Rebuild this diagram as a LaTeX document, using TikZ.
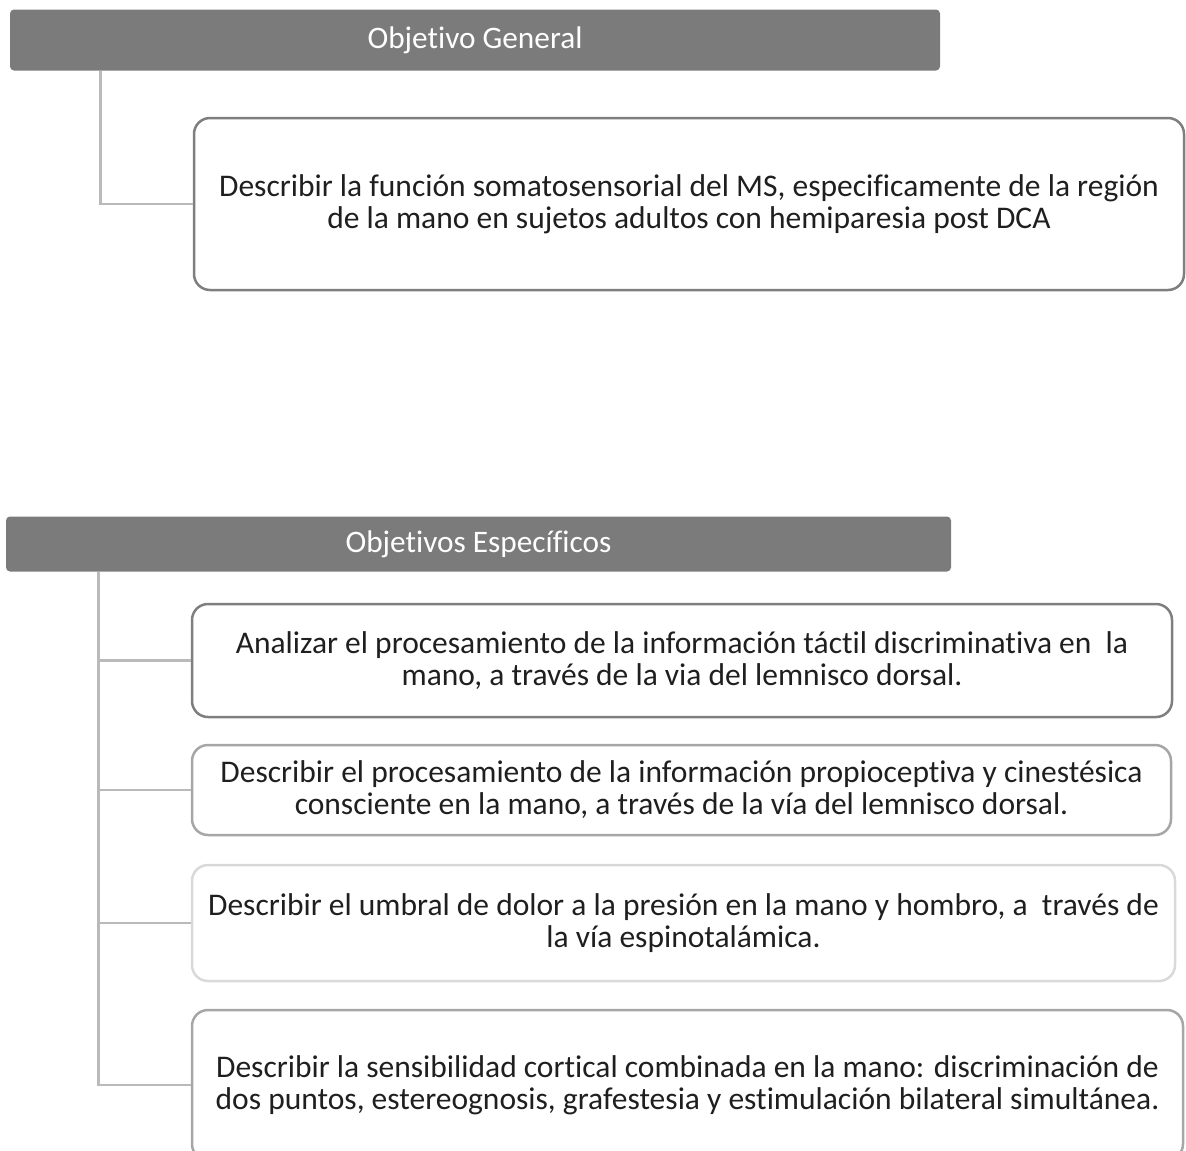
\documentclass[tikz,border=0pt]{standalone}
\usepackage{fontspec}
\setmainfont{Carlito}[Ligatures={NoCommon}]
\usepackage{tikz}
\usetikzlibrary{positioning, calc}
\usepackage{xcolor}
\definecolor{hdrgray}{HTML}{7B7B7B}
\definecolor{linkgray}{HTML}{BABABA}
\definecolor{darkedge}{HTML}{7F7F7F}
\definecolor{midedge}{HTML}{A6A6A6}
\definecolor{lightedge}{HTML}{D9D9D9}

\begin{document}
\begin{tikzpicture}[x=1pt, y=-1pt,
  header/.style={fill=hdrgray, draw=none, rounded corners=4pt,
    minimum width=#1, inner sep=0pt, text=white,
    font=\fontsize{31.3}{32}\selectfont},
  goal/.style={draw=#1, line width=2.5pt, rounded corners=16pt, fill=white,
    inner sep=0pt, align=center, text=black!88,
    font=\fontsize{31.5}{32}\selectfont},
  link/.style={draw=linkgray, line width=2.8pt}
]
  \useasboundingbox (0,0) rectangle (1186,1151);

  % General
  \node[header=930pt, minimum height=61pt] (hg) at (475, 40) {Objetivo General};
  \node[goal=darkedge, minimum width=990pt, minimum height=172pt] (g1) at (689, 204)
    {Describir la función somatosensorial del MS, especificamente de la región\\
     de la mano en sujetos adultos con hemiparesia post DCA};
  \draw[link] ([xshift=91pt]hg.south west) |- (g1.west);

  % Specific
  \node[header=945pt, minimum height=55pt] (hs) at (478.5, 544) {Objetivos Específicos};

  \node[goal=darkedge, minimum width=980pt, minimum height=113pt] (s1) at (682, 660.5)
    {Analizar el procesamiento de la información táctil discriminativa en \ la\\
     mano, a través de la via del lemnisco dorsal.};
  \node[goal=midedge, minimum width=979pt, minimum height=90pt] (s2) at (681.5, 790)
    {Describir el procesamiento de la información propioceptiva y cinestésica\\
     consciente en la mano, a través de la vía del lemnisco dorsal.};
  \node[goal=lightedge, minimum width=983pt, minimum height=116pt] (s3) at (683.5, 923)
    {Describir el umbral de dolor a la presión en la mano y hombro, a \ través de\\
     la vía espinotalámica.};
  \node[goal=midedge, minimum width=991pt, minimum height=150pt] (s4) at (687.5, 1085)
    {Describir la sensibilidad cortical combinada en la mano: discriminación de\\
     dos puntos, estereognosis, grafestesia y estimulación bilateral simultánea.};

  % Tree
  \coordinate (top) at ([xshift=93pt]hs.south west);
  \draw[link] (top) |- (s4.west);
  \foreach \n in {s1, s2, s3}
    \draw[link] (top |- \n.west) -- (\n.west);
\end{tikzpicture}
\end{document}
